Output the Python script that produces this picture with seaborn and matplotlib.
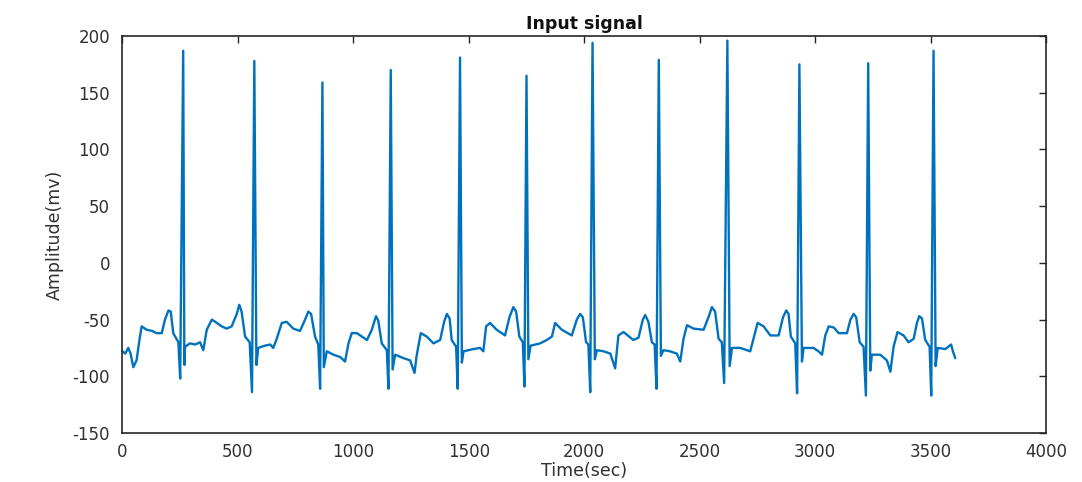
import matplotlib
matplotlib.use("Agg")
import matplotlib.pyplot as plt
import seaborn as sns
import pandas as pd

# ECG trace: knot points of each heartbeat (time in sec, amplitude in mV)
time_sec = [
    0, 12, 25, 35, 47, 61, 72, 83, 105, 128, 148, 170, 184, 199, 209, 220, 242, 250, 263, 268, 271, 292, 315, 336, 350,
    365, 387, 409, 430, 451, 473, 495, 506, 516, 531, 551, 561, 571, 580, 588, 617, 640, 653,
    668, 690, 711, 740, 769, 791, 805, 817, 834, 848, 856, 866, 872, 885, 914, 943, 964,
    979, 993, 1015, 1059, 1080, 1098, 1108, 1123, 1145, 1152, 1162, 1170, 1181, 1217, 1246, 1265,
    1274, 1292, 1318, 1347, 1376, 1393, 1405, 1417, 1426, 1445, 1452, 1462, 1470, 1477, 1520, 1549, 1563,
    1575, 1592, 1621, 1657, 1676, 1693, 1705, 1719, 1734, 1741, 1750, 1758, 1768, 1809, 1838,
    1860, 1874, 1903, 1946, 1968, 1982, 1994, 2008, 2018, 2026, 2036, 2046, 2055, 2084, 2113, 2134,
    2148, 2170, 2213, 2235, 2254, 2264, 2278, 2293, 2305, 2313, 2323, 2332, 2343, 2372, 2401, 2416,
    2430, 2445, 2474, 2517, 2538, 2553, 2567, 2582, 2596, 2606, 2620, 2630, 2640, 2676, 2719,
    2733, 2751, 2777, 2806, 2842, 2861, 2875, 2885, 2895, 2914, 2922, 2932, 2943, 2950, 2993, 3015, 3030,
    3044, 3059, 3081, 3102, 3138, 3153, 3167, 3178, 3193, 3210, 3220, 3230, 3239, 3246, 3282, 3311, 3326,
    3340, 3357, 3383, 3405, 3427, 3441, 3451, 3463, 3477, 3496, 3503, 3513, 3522, 3531, 3564, 3589, 3597, 3607,
]
amplitude_mv = [
    -78, -80, -75, -80, -92, -86, -70, -56, -59, -60, -62, -62, -50, -42, -43, -62, -70, -102, 187, -90, -74, -71, -72, -70, -77,
    -59, -50, -53, -56, -58, -56, -45, -37, -43, -65, -70, -114, 178, -90, -75, -73, -72, -75,
    -67, -53, -52, -58, -60, -50, -43, -45, -65, -72, -111, 159, -92, -78, -81, -83, -87,
    -71, -62, -62, -68, -59, -47, -51, -71, -77, -111, 170, -94, -81, -84, -86, -97,
    -82, -62, -65, -71, -68, -52, -45, -49, -68, -74, -111, 181, -88, -78, -76, -75, -78,
    -56, -53, -59, -64, -48, -39, -43, -65, -70, -109, 165, -85, -73, -71, -68,
    -65, -53, -59, -64, -50, -45, -48, -70, -72, -114, 194, -85, -77, -78, -80, -93,
    -64, -61, -68, -66, -50, -46, -52, -70, -72, -111, 179, -82, -77, -78, -80, -87,
    -67, -55, -58, -59, -48, -39, -43, -67, -70, -106, 196, -91, -75, -75, -78,
    -67, -53, -56, -64, -64, -48, -42, -45, -65, -71, -115, 175, -87, -75, -75, -78, -81,
    -64, -56, -57, -62, -62, -50, -45, -48, -70, -74, -117, 176, -95, -81, -81, -86, -96,
    -74, -61, -64, -70, -67, -53, -47, -49, -68, -74, -117, 187, -91, -75, -76, -72, -78, -84,
]

x_ticks = [0, 500, 1000, 1500, 2000, 2500, 3000, 3500, 4000]
y_ticks = [-150, -100, -50, 0, 50, 100, 150, 200]

signal = pd.DataFrame({"time": time_sec, "amplitude": amplitude_mv})

sns.set_style("white")
plt.rcParams["font.family"] = ["DejaVu Sans"]

fig = plt.figure(figsize=(10.82, 4.82), dpi=100)
ax = fig.add_axes([0.1132, 0.1017, 0.8535, 0.8236])

sns.lineplot(data=signal, x="time", y="amplitude", sort=False, estimator=None,
             color="#0072BD", linewidth=1.7, ax=ax)

ax.set_xlim(0, 4000)
ax.set_ylim(-150, 200)
ax.set_xticks(x_ticks)
ax.set_yticks(y_ticks)
ax.set_yticklabels([str(v) for v in y_ticks])

ax.tick_params(direction="in", top=True, right=True, length=5, width=1.0,
               color="#262626", labelcolor="#303030", labelsize=12)
ax.tick_params(axis="y", pad=9)
ax.tick_params(axis="x", pad=7)
for side in ax.spines.values():
    side.set_visible(True)
    side.set_color("#262626")
    side.set_linewidth(1.2)

ax.set_title("Input signal", fontweight="bold", fontsize=12.5, pad=5, color="#111111")
ax.set_xlabel("Time(sec)", fontsize=12.5, labelpad=1, color="#303030")
ax.set_ylabel("Amplitude(mv)", fontsize=12.5, labelpad=6, color="#303030")

fig.savefig("out.png", dpi=100, facecolor="white")
